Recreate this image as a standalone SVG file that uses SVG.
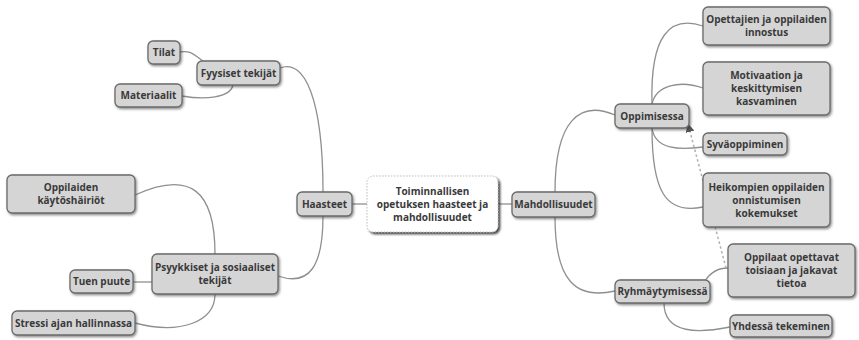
<svg xmlns="http://www.w3.org/2000/svg" width="859" height="340" viewBox="0 0 859 340">
<style>
.n rect{fill:#d5d5d5;stroke:#6a6a6a;stroke-width:1.3;filter:url(#sh)}
.c rect{fill:#ffffff;stroke:#bdbdbd;stroke-width:1;stroke-dasharray:1.5 1.5;filter:url(#sh2)}
text{font-family:"Open Sans","DejaVu Sans",sans-serif;font-weight:bold;font-size:10px;fill:#3a3a3a;text-anchor:middle}
#edges path{fill:none;stroke:#8f8f8f;stroke-width:1.3}
#edges path.d{stroke:#b0b0b0;stroke-dasharray:2.5 2.5;stroke-width:1.5}
</style>
<defs>
<filter id="sh" x="-20%" y="-30%" width="140%" height="160%"><feDropShadow dx="1.2" dy="1.5" stdDeviation="0.9" flood-color="#333" flood-opacity="0.55"/></filter>
<filter id="sh2" x="-20%" y="-30%" width="140%" height="160%"><feDropShadow dx="2" dy="2" stdDeviation="0.8" flood-color="#222" flood-opacity="0.85"/></filter>
<marker id="ah" viewBox="0 0 10 10" refX="9" refY="5" markerWidth="6" markerHeight="6" orient="auto"><path d="M0,0 L10,5 L0,10 z" fill="#555"/></marker>
</defs>
<rect width="859" height="340" fill="#fff"/>
<g id="edges">
<path d="M180,52 C192,50 195,56 203,61"/>
<path d="M182,96 C205,100 230,98 233,85"/>
<path d="M280,68 C305,58 323,100 323,192"/>
<path d="M323,216 C323,265 310,287 278,276"/>
<path d="M352,204 L367,204"/>
<path d="M498,204 L512,204"/>
<path d="M215,254 C215,190 190,170 135,195"/>
<path d="M133,282 L152,282"/>
<path d="M215,294 C215,322 180,335 135,323"/>
<path d="M555,192 C555,120 580,100 615,115"/>
<path d="M555,217 C555,280 575,300 615,291"/>
<path d="M652,104 C650,35 670,15 703,26"/>
<path d="M652,104 C656,85 680,80 703,88"/>
<path d="M652,128 C655,150 680,150 703,147"/>
<path d="M652,128 C652,190 665,215 703,207"/>
<path d="M705,281 C712,270 720,268 728,268"/>
<path d="M664,303 C664,335 700,333 730,327"/>
<path class="d" d="M726,268 L688,124" marker-end="url(#ah)"/>
</g>
<g id="n-tilat" class="n"><rect x="148" y="41" width="32" height="23" rx="5"/><text x="164" y="56">Tilat</text></g>
<g id="n-fyysiset" class="n"><rect x="197" y="61" width="83" height="24" rx="5"/><text x="238.5" y="76.5">Fyysiset tekijät</text></g>
<g id="n-materiaalit" class="n"><rect x="115" y="84" width="67" height="23" rx="5"/><text x="148.5" y="99">Materiaalit</text></g>
<g id="n-kaytos" class="n"><rect x="7" y="175" width="128" height="38" rx="5"/><text x="71" y="191">Oppilaiden</text><text x="71" y="204">käytöshäiriöt</text></g>
<g id="n-psyykkiset" class="n"><rect x="152" y="254" width="126" height="40" rx="5"/><text x="215" y="271">Psyykkiset ja sosiaaliset</text><text x="215" y="284">tekijät</text></g>
<g id="n-tuen" class="n"><rect x="70" y="270" width="63" height="23" rx="5"/><text x="101.5" y="285">Tuen puute</text></g>
<g id="n-stressi" class="n"><rect x="12" y="311" width="123" height="24" rx="5"/><text x="73.5" y="326.5">Stressi ajan hallinnassa</text></g>
<g id="n-haasteet" class="n"><rect x="297" y="192" width="55" height="24" rx="5"/><text x="324.5" y="207.5">Haasteet</text></g>
<g id="n-central" class="c"><rect x="367" y="176" width="131" height="56" rx="6"/><text x="432.5" y="194.5">Toiminnallisen</text><text x="432.5" y="207.5">opetuksen haasteet ja</text><text x="432.5" y="220.5">mahdollisuudet</text></g>
<g id="n-mahdollisuudet" class="n"><rect x="512" y="192" width="83" height="25" rx="5"/><text x="553.5" y="208">Mahdollisuudet</text></g>
<g id="n-oppimisessa" class="n"><rect x="615" y="104" width="74" height="24" rx="5"/><text x="652" y="119.5">Oppimisessa</text></g>
<g id="n-opettajien" class="n"><rect x="703" y="7" width="127" height="38" rx="5"/><text x="766.5" y="23">Opettajien ja oppilaiden</text><text x="766.5" y="36">innostus</text></g>
<g id="n-motivaation" class="n"><rect x="703" y="62" width="127" height="53" rx="5"/><text x="766.5" y="79">Motivaation ja</text><text x="766.5" y="92">keskittymisen</text><text x="766.5" y="105">kasvaminen</text></g>
<g id="n-syva" class="n"><rect x="703" y="133" width="84" height="22" rx="5"/><text x="745" y="147.5">Syväoppiminen</text></g>
<g id="n-heikompien" class="n"><rect x="703" y="173" width="127" height="54" rx="5"/><text x="766.5" y="190.5">Heikompien oppilaiden</text><text x="766.5" y="203.5">onnistumisen</text><text x="766.5" y="216.5">kokemukset</text></g>
<g id="n-oppilaat" class="n"><rect x="728" y="244" width="127" height="53" rx="5"/><text x="791.5" y="261">Oppilaat opettavat</text><text x="791.5" y="274">toisiaan ja jakavat</text><text x="791.5" y="287">tietoa</text></g>
<g id="n-ryhma" class="n"><rect x="615" y="280" width="95" height="23" rx="5"/><text x="662.5" y="295">Ryhmäytymisessä</text></g>
<g id="n-yhdessa" class="n"><rect x="730" y="315" width="102" height="22" rx="5"/><text x="781" y="329.5">Yhdessä tekeminen</text></g>
</svg>
